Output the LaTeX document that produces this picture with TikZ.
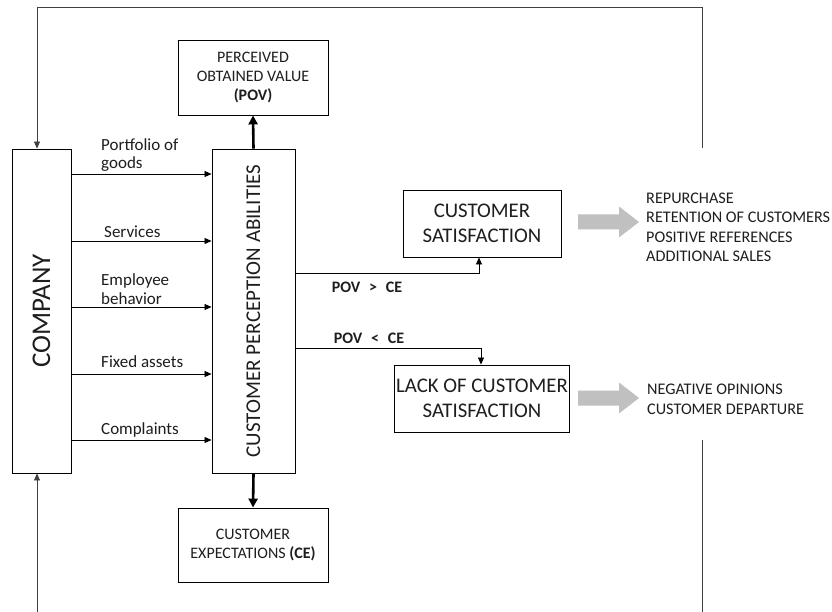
\documentclass[tikz,border=0pt]{standalone}
\usepackage{fontspec}
\setmainfont{Carlito}
\usetikzlibrary{arrows.meta}
\definecolor{txt}{HTML}{1E1E1E}
\definecolor{garrow}{HTML}{C0C0C0}
\tikzset{
  box/.style={draw, line width=0.9pt, inner sep=0pt, align=center, text=txt},
  flow/.style={line width=0.8pt, -{Triangle[length=7pt,width=6pt]}},
  thickflow/.style={line width=2.6pt, -{Triangle[length=9pt,width=9pt]}},
  loop/.style={line width=0.7pt, draw=black!75},
  lbl/.style={inner sep=0pt, align=left, text=txt, font=\fontsize{17}{18.5}\selectfont, anchor=south west},
  cond/.style={inner sep=0pt, text=txt, font=\fontsize{16}{16}\bfseries\selectfont},
  result/.style={inner sep=0pt, align=left, text=txt, font=\fontsize{16.2}{19.4}\selectfont, anchor=north west},
  grey/.style={fill=garrow, draw=none}
}
\newcommand{\greyarrow}[2]{% x0, ycenter
  \fill[grey] (#1,#2-7.5) -- ++(41,0) -- ++(0,-8) -- ++(20,15.5) -- ++(-20,15.5) -- ++(0,-8) -- ++(-41,0) -- cycle;}
\begin{document}
\begin{tikzpicture}[x=1pt,y=-1pt]
\useasboundingbox (0,0) rectangle (832,612);
\fill[white] (0,0) rectangle (832,612);
% boxes
\node[box, minimum width=59pt, minimum height=324pt] (company) at (41.5,311) {};
\node[rotate=90, text=txt, font=\fontsize{27}{30}\selectfont] (companytxt) at (company.center) {COMPANY};
\node[box, minimum width=83pt, minimum height=324pt] (cpa) at (253.5,311) {};
\node[rotate=90, text=txt, font=\fontsize{21}{24}\selectfont] (cpatxt) at (cpa.center) {CUSTOMER PERCEPTION ABILITIES};
\node[box, minimum width=150pt, minimum height=75pt, font=\fontsize{16}{19}\selectfont] (pov) at (253,77.5) {PERCEIVED\\OBTAINED VALUE\\\textbf{(POV)}};
\node[box, minimum width=150pt, minimum height=74pt, font=\fontsize{16}{19}\selectfont] (ce) at (253,545) {CUSTOMER\\EXPECTATIONS \textbf{(CE)}};
\node[box, minimum width=158pt, minimum height=67pt, font=\fontsize{20.8}{25}\selectfont] (cs) at (482,223.5) {CUSTOMER\\SATISFACTION};
\node[box, minimum width=175pt, minimum height=67pt, font=\fontsize{20.8}{25}\selectfont] (lcs) at (482,398.5) {LACK OF CUSTOMER\\SATISFACTION};
% flows company -> cpa
\foreach \y/\n in {174/a,241/b,307/c,374/d,440/e}{
  \coordinate (s\n) at (71,\y);
  \draw[flow] (s\n) -- (s\n -| cpa.west);
}
\node[lbl] (l1) at (101,172) {Portfolio of\\goods};
\node[lbl] (l2) at (104,238) {Services};
\node[lbl] (l3) at (101,304.5) {Employee\\behavior};
\node[lbl] (l4) at (101,368) {Fixed assets};
\node[lbl] (l5) at (101,437) {Complaints};
% thick arrows
\draw[thickflow] (cpa.north) -- (pov.south);
\draw[thickflow] (cpa.south) -- (ce.north);
% conditions
\coordinate (c1) at (295,273);
\coordinate (c2) at (295,348);
\draw[flow] (c1) -| (479,0 |- cs.south);
\draw[flow] (c2) -| (481,0 |- lcs.north);
\node[cond] (g1) at (367,287) {POV\hspace{0.55em}>\hspace{0.55em}CE};
\node[cond] (g2) at (369,338) {POV\hspace{0.55em}<\hspace{0.55em}CE};
% grey arrows
\greyarrow{578}{222}
\greyarrow{578}{398}
\node[result] (r1) at (646,192.5) {REPURCHASE\\RETENTION OF CUSTOMERS\\POSITIVE REFERENCES\\ADDITIONAL SALES};
\node[result] (r2) at (647,384) {NEGATIVE OPINIONS\\CUSTOMER DEPARTURE};
% feedback loop
\coordinate (rt) at (702,148);
\coordinate (tl) at (37,7);
\draw[loop, -{Triangle[length=7pt,width=6pt]}] (rt) |- (tl) -- (tl |- company.north);
\coordinate (rb1) at (702,440);
\coordinate (rb2) at (702,612);
\draw[loop] (rb1) -- (rb2);
\coordinate (bl) at (37,612);
\draw[loop, -{Triangle[length=7pt,width=6pt]}] (bl) -- (bl |- company.south);
\end{tikzpicture}
\end{document}
